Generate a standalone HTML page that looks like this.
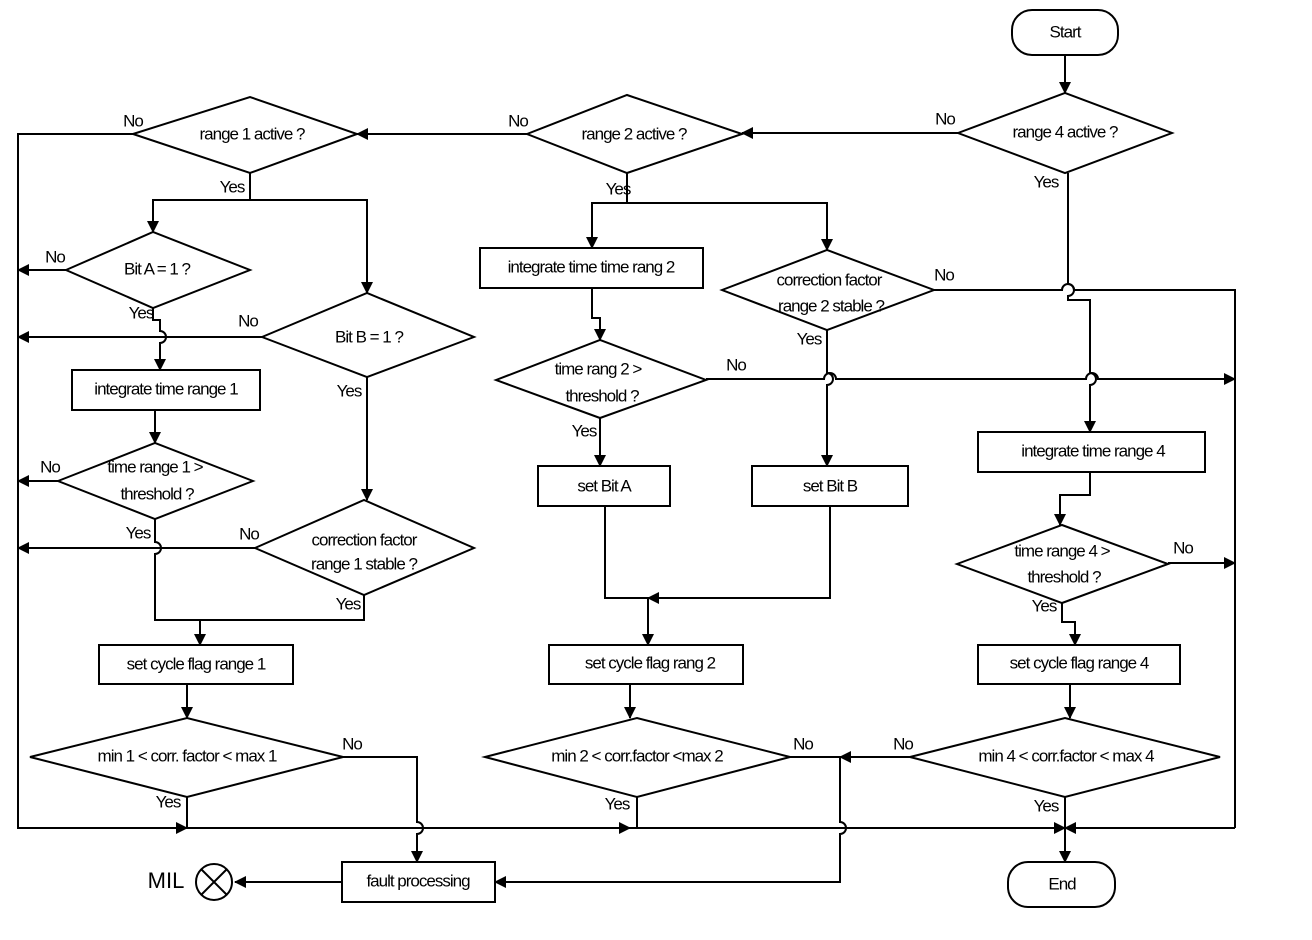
<!DOCTYPE html>
<html><head><meta charset="utf-8"><style>
html,body{margin:0;padding:0;background:#fff}
svg{display:block}
text{font-family:"Liberation Sans",Arial,sans-serif;font-size:17px;letter-spacing:-1px;fill:#000}
</style></head><body>
<svg width="1312" height="940" viewBox="0 0 1312 940" xmlns="http://www.w3.org/2000/svg">
<defs>
<marker id="a" markerWidth="12" markerHeight="12" refX="11" refY="6" orient="auto" markerUnits="userSpaceOnUse">
<path d="M0,0 L12,6 L0,12 z" fill="#000"/></marker>
</defs>
<g fill="none" stroke="#000" stroke-width="2">
<!-- Start/End -->
<rect x="1012" y="10" width="106" height="45" rx="20"/>
<rect x="1008" y="862" width="107" height="45" rx="20"/>
<!-- diamonds -->
<polygon points="958,133 1065,93 1172,133 1065,173"/>
<polygon points="527,134 627,95 742,134 627,173"/>
<polygon points="133,134 250,97 357,134 250,173"/>
<polygon points="66,270 153,232 250,270 153,308"/>
<polygon points="262,337 367,293 474,337 367,377"/>
<polygon points="58,481 155,443 253,481 155,519"/>
<polygon points="255,548 364,500 474,548 364,595"/>
<polygon points="30,757 187,718 343,757 187,797"/>
<polygon points="496,380 600,340 706,380 600,418"/>
<polygon points="722,290 827,250 934,290 827,330"/>
<polygon points="485,757 637,718 790,757 637,797"/>
<polygon points="957,564 1062,525 1168,564 1062,603"/>
<polygon points="910,757 1065,718 1220,757 1065,797"/>
<!-- boxes -->
<rect x="72" y="370" width="188" height="40"/>
<rect x="99" y="645" width="194" height="39"/>
<rect x="342" y="862" width="153" height="40"/>
<rect x="480" y="248" width="223" height="40"/>
<rect x="538" y="466" width="132" height="40"/>
<rect x="752" y="466" width="156" height="40"/>
<rect x="549" y="645" width="194" height="39"/>
<rect x="978" y="432" width="227" height="40"/>
<rect x="978" y="645" width="202" height="39"/>
<circle cx="214" cy="882" r="18"/>
<path d="M201,869 L227,895 M227,869 L201,895"/>
<!-- connectors -->
<path d="M1065,55 V93" marker-end="url(#a)"/>
<path d="M958,133 H742" marker-end="url(#a)"/>
<path d="M527,134 H357" marker-end="url(#a)"/>
<path d="M133,134 H18 V828 H187" marker-end="url(#a)"/>
<path d="M187,828 H630" marker-end="url(#a)"/>
<path d="M630,828 H1065" marker-end="url(#a)"/>
<path d="M1235,828 H1065" marker-end="url(#a)"/>
<path d="M250,173 V200 H153 V232" marker-end="url(#a)"/>
<path d="M250,200 H367 V293" marker-end="url(#a)"/>
<path d="M66,270 H18" marker-end="url(#a)"/>
<path d="M153,308 V320 H160 V331 A6,6 0 0 1 160,343 V370" marker-end="url(#a)"/>
<path d="M262,337 H18" marker-end="url(#a)"/>
<path d="M367,377 V500" marker-end="url(#a)"/>
<path d="M155,410 V443" marker-end="url(#a)"/>
<path d="M58,481 H18" marker-end="url(#a)"/>
<path d="M155,519 V542 A6,6 0 0 1 155,554 V620 H364 V595"/>
<path d="M255,548 H18" marker-end="url(#a)"/>
<path d="M200,620 V645" marker-end="url(#a)"/>
<path d="M187,684 V718" marker-end="url(#a)"/>
<path d="M187,797 V828"/>
<path d="M343,757 H417 V822 A6,6 0 0 1 417,834 V862" marker-end="url(#a)"/>
<path d="M342,882 H235" marker-end="url(#a)"/>
<path d="M627,173 V203 H592 V248" marker-end="url(#a)"/>
<path d="M627,203 H827 V250" marker-end="url(#a)"/>
<path d="M592,288 V318 H600 V340" marker-end="url(#a)"/>
<path d="M706,379 H824 A6,6 0 0 1 836,379 H1086 A6,6 0 0 1 1098,379 H1235" marker-end="url(#a)"/>
<path d="M600,418 V466" marker-end="url(#a)"/>
<path d="M934,290 H1062 A6,6 0 0 1 1074,290 H1235 V828"/>
<path d="M827,330 V373 A6,6 0 0 1 827,385 V466" marker-end="url(#a)"/>
<path d="M605,506 V598 H648"/>
<path d="M830,506 V598 H648" marker-end="url(#a)"/>
<path d="M648,598 V645" marker-end="url(#a)"/>
<path d="M630,684 V718" marker-end="url(#a)"/>
<path d="M637,797 V828"/>
<path d="M790,757 H840 V822 A6,6 0 0 1 840,834 V882 H495" marker-end="url(#a)"/>
<path d="M910,757 H840" marker-end="url(#a)"/>
<path d="M1068,173 V284 A6,6 0 0 1 1068,296 V300 H1090 V373 A6,6 0 0 1 1090,385 V432" marker-end="url(#a)"/>
<path d="M1090,472 V495 H1060 V525" marker-end="url(#a)"/>
<path d="M1168,563 H1235" marker-end="url(#a)"/>
<path d="M1062,603 V622 H1075 V645" marker-end="url(#a)"/>
<path d="M1070,684 V718" marker-end="url(#a)"/>
<path d="M1065,797 V828 V862" marker-end="url(#a)"/>
</g>
<g text-anchor="middle" dominant-baseline="middle">
<text x="1065" y="33">Start</text>
<text x="1062" y="885">End</text>
<text x="1065" y="133">range 4 active ?</text>
<text x="634" y="135">range 2 active ?</text>
<text x="252" y="135">range 1 active ?</text>
<text x="157" y="270">Bit A = 1 ?</text>
<text x="369" y="338">Bit B =  1 ?</text>
<text x="166" y="390">integrate time range 1</text>
<text x="155" y="468">time range 1 &gt;</text>
<text x="157" y="495">threshold ?</text>
<text x="364" y="541">correction factor</text>
<text x="364" y="565">range 1 stable ?</text>
<text x="196" y="665">set cycle flag  range 1</text>
<text x="187" y="757">min 1 &lt; corr. factor &lt; max 1</text>
<text x="418" y="882">fault processing</text>
<text x="591" y="268">integrate time time rang 2</text>
<text x="829" y="281">correction factor</text>
<text x="831" y="307">range 2 stable ?</text>
<text x="598" y="370">time rang 2 &gt;</text>
<text x="602" y="397">threshold ?</text>
<text x="604" y="487">set Bit A</text>
<text x="830" y="487">set Bit B</text>
<text x="650" y="664">set cycle flag rang 2</text>
<text x="637" y="757">min 2 &lt; corr.factor &lt;max 2</text>
<text x="1093" y="452">integrate time range 4</text>
<text x="1062" y="552">time range 4 &gt;</text>
<text x="1064" y="578">threshold ?</text>
<text x="1079" y="664">set cycle flag range 4</text>
<text x="1066" y="757">min 4 &lt; corr.factor &lt; max 4</text>
<text x="945" y="120">No</text>
<text x="518" y="122">No</text>
<text x="133" y="122">No</text>
<text x="55" y="258">No</text>
<text x="248" y="322">No</text>
<text x="50" y="468">No</text>
<text x="249" y="535">No</text>
<text x="352" y="745">No</text>
<text x="736" y="366">No</text>
<text x="944" y="276">No</text>
<text x="803" y="745">No</text>
<text x="903" y="745">No</text>
<text x="1183" y="549">No</text>
<text x="232" y="188">Yes</text>
<text x="618" y="190">Yes</text>
<text x="1046" y="183">Yes</text>
<text x="141" y="314">Yes</text>
<text x="349" y="392">Yes</text>
<text x="138" y="534">Yes</text>
<text x="348" y="605">Yes</text>
<text x="168" y="803">Yes</text>
<text x="584" y="432">Yes</text>
<text x="809" y="340">Yes</text>
<text x="617" y="805">Yes</text>
<text x="1044" y="607">Yes</text>
<text x="1046" y="807">Yes</text>
<text x="166" y="882" style="font-size:22px;letter-spacing:0">MIL</text>
</g>
</svg>
</body></html>
